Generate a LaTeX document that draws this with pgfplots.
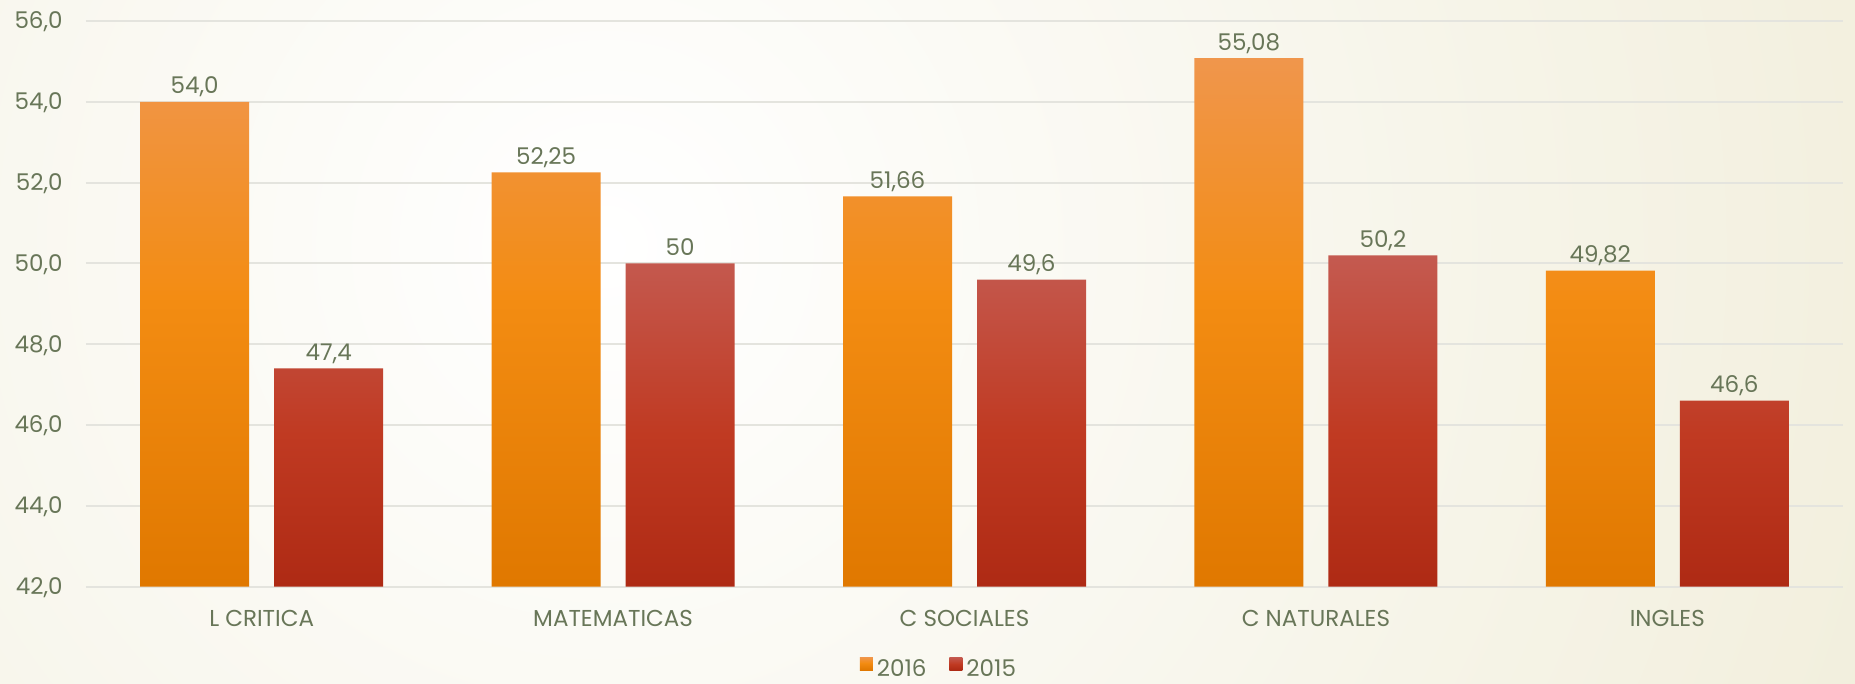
\documentclass[border=0pt]{standalone}
\usepackage{fontspec}
\setmainfont{Poppins}
\usepackage{pgfplots}
\pgfplotsset{compat=1.18}
\definecolor{txt}{HTML}{687658}
\definecolor{gridc}{HTML}{E4E4DE}
\definecolor{bgout}{HTML}{E9E4C6}
\definecolor{oTop}{HTML}{F0964C}
\definecolor{oMid}{HTML}{F38C12}
\definecolor{oBot}{HTML}{E07800}
\definecolor{rTop}{HTML}{C45A50}
\definecolor{rMid}{HTML}{C03A22}
\definecolor{rBot}{HTML}{AE2A14}
\pgfdeclareverticalshading{obar}{100bp}{color(0bp)=(oBot); color(25bp)=(oBot); color(52bp)=(oMid); color(75bp)=(oTop); color(100bp)=(oTop)}
\pgfdeclareverticalshading{rbar}{100bp}{color(0bp)=(rBot); color(25bp)=(rBot); color(48bp)=(rMid); color(75bp)=(rTop); color(100bp)=(rTop)}
\begin{document}
\begin{tikzpicture}[font=\fontsize{11.5}{13}\selectfont]
\fill[bgout] (-43pt,-48.75pt) rectangle (884.5pt,293.25pt);
\begin{scope}
\clip (-43pt,-48.75pt) rectangle (884.5pt,293.25pt);
\shade[inner color=white, outer color=bgout] (260pt,170pt) circle (1120pt);
\end{scope}
\path[use as bounding box] (-43pt,-48.75pt) rectangle (884.5pt,293.25pt);
\begin{axis}[
  at={(0,0)}, anchor=south west,
  scale only axis, width=878.5pt, height=282.75pt,
  ymin=42, ymax=56, ytick={42,44,...,56},
  xmin=-0.5, xmax=4.5, xtick={0,1,2,3,4},
  xticklabels={L CRITICA, MATEMATICAS, C SOCIALES, C NATURALES, INGLES},
  axis line style={draw=none},
  major tick length=0pt,
  ymajorgrids, grid style={gridc, line width=1pt},
  tick label style={text=txt},
  yticklabel style={anchor=base east, inner sep=0pt, xshift=-11.5pt, yshift=-4pt,
    /pgf/number format/fixed, /pgf/number format/fixed zerofill,
    /pgf/number format/precision=1, /pgf/number format/use comma,
    /pgf/number format/assume math mode=true},
  xticklabel style={anchor=base, inner sep=0pt, yshift=-19.75pt},
  ybar=12.5pt, bar width=54.5pt,
  nodes near coords, point meta=explicit symbolic,
  nodes near coords style={text=txt, anchor=base, inner sep=0pt, yshift=4pt},
  clip=false,
  legend style={at={(0.486,0)}, anchor=center, yshift=-41.75pt, draw=none, fill=none,
    legend columns=-1, text=txt,
    /tikz/every even column/.append style={column sep=9.5pt}},
]
\addplot[draw=none, shade, shading=obar,
  legend image code/.code={\shade[shading=obar] (0pt,0pt) rectangle (6.5pt,6.5pt);}]
  coordinates {(0,54.0) [54,0] (1,52.25) [52,25] (2,51.66) [51,66] (3,55.08) [55,08] (4,49.82) [49,82]};
\addlegendentry{2016}
\addplot[draw=none, shade, shading=rbar,
  legend image code/.code={\shade[shading=rbar] (0pt,0pt) rectangle (6.5pt,6.5pt);}]
  coordinates {(0,47.4) [47,4] (1,50) [50] (2,49.6) [49,6] (3,50.2) [50,2] (4,46.6) [46,6]};
\addlegendentry{2015}
\end{axis}
\end{tikzpicture}
\end{document}
